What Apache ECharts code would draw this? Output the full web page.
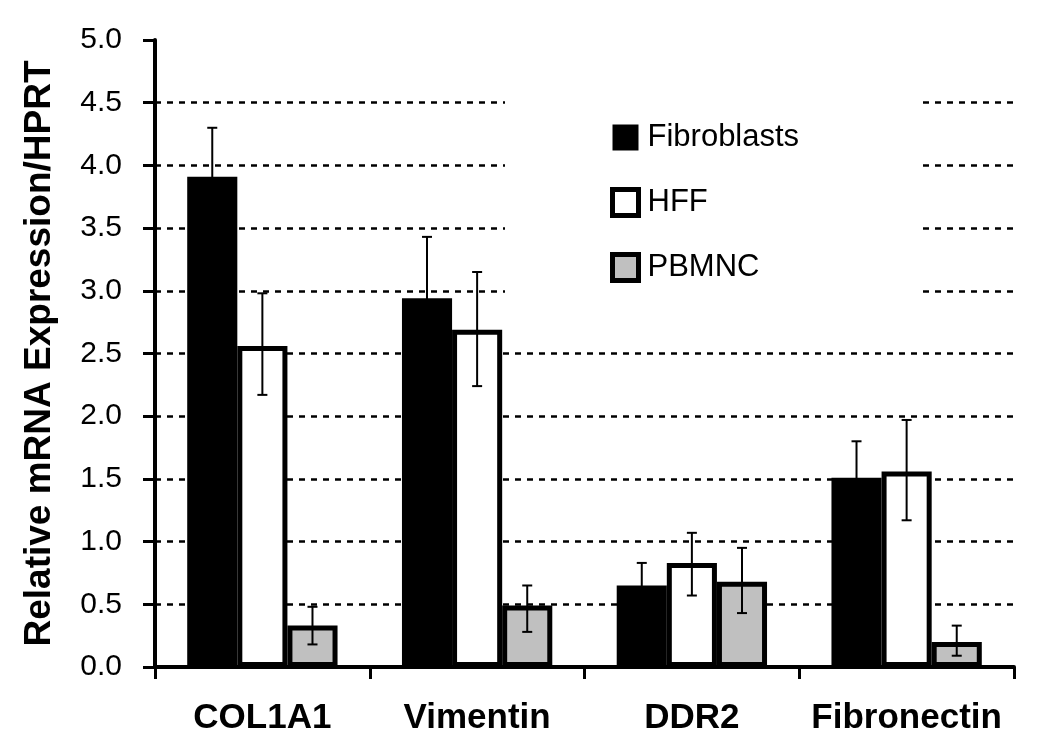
<!DOCTYPE html>
<html>
<head>
<meta charset="utf-8">
<script src="https://cdn.jsdelivr.net/npm/echarts@6/dist/echarts.min.js"></script>
<style>html,body{margin:0;padding:0;background:#fff;}#c{width:1050px;height:755px;}</style>
</head>
<body>
<div id="c"></div>
<script>
const categories = ['COL1A1', 'Vimentin', 'DDR2', 'Fibronectin'];
const seriesNames = ['Fibroblasts', 'HFF', 'PBMNC'];
const fibroblasts = [3.91, 2.94, 0.65, 1.51];
const fibroblastsLow = [3.52, 2.45, 0.47, 1.22];
const fibroblastsHigh = [4.30, 3.43, 0.83, 1.80];
const hff = [2.56, 2.69, 0.83, 1.56];
const hffLow = [2.17, 2.24, 0.57, 1.17];
const hffHigh = [2.98, 3.15, 1.07, 1.97];
const pbmnc = [0.33, 0.49, 0.68, 0.20];
const pbmncLow = [0.18, 0.28, 0.43, 0.09];
const pbmncHigh = [0.48, 0.65, 0.95, 0.33];
const yTicks = ['0.0','0.5','1.0','1.5','2.0','2.5','3.0','3.5','4.0','4.5','5.0'];

const values = [fibroblasts, hff, pbmnc];
const lows = [fibroblastsLow, hffLow, pbmncLow];
const highs = [fibroblastsHigh, hffHigh, pbmncHigh];
const fills = ['#000000', '#ffffff', '#c0c0c0'];
const GAP = 0.30;

const chart = echarts.init(document.getElementById('c'));

function errorSeries(si) {
  return {
    type: 'custom',
    name: seriesNames[si] + ' error',
    z: 10,
    silent: true,
    data: categories.map((c, i) => [i, lows[si][i], highs[si][i]]),
    renderItem: function (params, api) {
      const band = api.size([1, 0])[0];
      const bw = band * (1 - GAP) / 3;
      const x = api.coord([api.value(0), 0])[0] + (si - 1) * bw;
      const yLo = api.coord([api.value(0), api.value(1)])[1];
      const yHi = api.coord([api.value(0), api.value(2)])[1];
      const cap = 5;
      const st = { stroke: '#000', lineWidth: 2 };
      return {
        type: 'group',
        children: [
          { type: 'line', shape: { x1: x, y1: yLo, x2: x, y2: yHi }, style: st },
          { type: 'line', shape: { x1: x - cap, y1: yHi, x2: x + cap, y2: yHi }, style: st },
          { type: 'line', shape: { x1: x - cap, y1: yLo, x2: x + cap, y2: yLo }, style: st }
        ]
      };
    }
  };
}

const gridColors = yTicks.map((t, i) => i === yTicks.length - 1 ? 'rgba(0,0,0,0)' : '#000');

const option = {
  backgroundColor: '#fff',
  animation: false,
  grid: { left: 155, right: 36, top: 40, bottom: 88 },
  legend: {
    orient: 'vertical',
    left: 505,
    top: 95,
    padding: [27, 120, 40, 105],
    itemGap: 34,
    itemWidth: 26,
    itemHeight: 26,
    backgroundColor: '#fff',
    textStyle: { fontFamily: 'Liberation Sans, Arial, sans-serif', fontSize: 31, color: '#000', lineHeight: 26, padding: [0, 0, 0, 4] },
    data: seriesNames.map((n, i) => ({
      name: n,
      icon: 'rect',
      itemStyle: { color: fills[i], borderColor: '#000', borderWidth: i === 0 ? 0 : 5 }
    }))
  },
  xAxis: {
    type: 'category',
    data: categories,
    axisLine: { lineStyle: { color: '#000', width: 4 } },
    axisTick: { show: true, length: 12, lineStyle: { color: '#000', width: 3 } },
    axisLabel: { interval: 0, margin: 34, color: '#000', fontSize: 35, fontWeight: 'bold', fontFamily: 'Liberation Sans, Arial, sans-serif' },
    splitLine: { show: false }
  },
  yAxis: {
    type: 'value',
    min: 0,
    max: 5,
    interval: 0.5,
    name: 'Relative mRNA Expression/HPRT',
    nameLocation: 'middle',
    nameGap: 97,
    nameTextStyle: { color: '#000', fontSize: 37, fontWeight: 'bold', fontFamily: 'Liberation Sans, Arial, sans-serif' },
    axisLine: { show: true, lineStyle: { color: '#000', width: 4 } },
    axisTick: { show: true, length: 12, lineStyle: { color: '#000', width: 3 } },
    axisLabel: {
      margin: 33, color: '#000', fontSize: 30, fontFamily: 'Liberation Sans, Arial, sans-serif',
      formatter: function (v) { return yTicks[Math.round(v / 0.5)]; }
    },
    splitLine: { show: true, lineStyle: { color: gridColors, width: 2.5, type: [6, 6] } }
  },
  series: [
    ...seriesNames.map((n, si) => ({
      type: 'bar',
      name: n,
      data: values[si],
      barGap: '0%',
      barCategoryGap: (GAP * 100) + '%',
      itemStyle: { color: fills[si], borderColor: '#000', borderWidth: si === 0 ? 0 : 5 },
      z: 2 + si
    })),
    errorSeries(0), errorSeries(1), errorSeries(2)
  ]
};
chart.setOption(option);
</script>
</body>
</html>
